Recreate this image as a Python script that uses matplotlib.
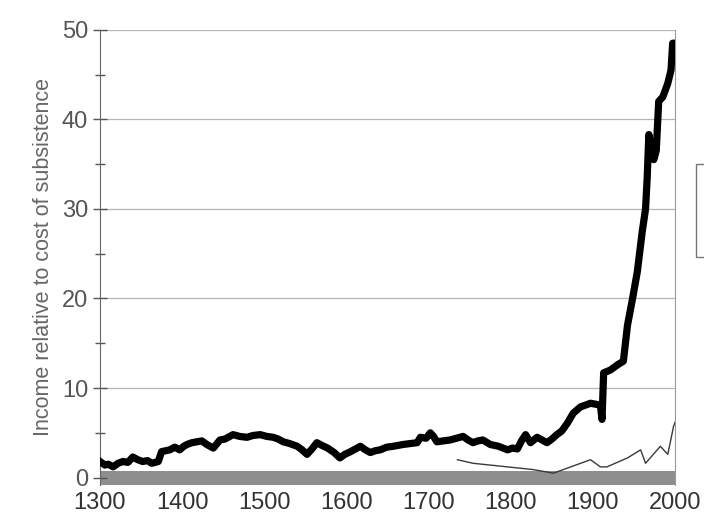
"""Income relative to cost of subsistence, 1300-2000"""
import matplotlib
matplotlib.use("Agg")
import matplotlib.pyplot as plt
from matplotlib.patches import Rectangle

plt.rcParams['font.family'] = ['Liberation Sans', 'DejaVu Sans']

# thick series
years_main = [1300, 1306, 1310, 1316, 1322, 1328, 1334, 1340, 1346, 1352,
              1358, 1363, 1371, 1375, 1380, 1385, 1391, 1397, 1402, 1406,
              1412, 1418, 1424, 1430, 1438, 1446, 1452, 1462, 1470, 1479,
              1486, 1495, 1503, 1511, 1517, 1523, 1531, 1540, 1546, 1552,
              1558, 1564, 1570, 1577, 1585, 1592, 1598, 1605, 1611, 1617,
              1623, 1629, 1635, 1641, 1649, 1657, 1669, 1686, 1690, 1697,
              1702, 1706, 1710, 1718, 1726, 1734, 1742, 1748, 1754, 1760,
              1766, 1775, 1785, 1796, 1802, 1808, 1813, 1818, 1824, 1832,
              1838, 1844, 1850, 1856, 1862, 1869, 1876, 1885, 1897, 1909,
              1911, 1913, 1921, 1930, 1937, 1942, 1948, 1954, 1960, 1964,
              1966, 1968, 1971, 1974, 1977, 1980, 1985, 1991, 1995, 1997,
              2000]
income_main = [1.8, 1.4, 1.5, 1.2, 1.6, 1.8, 1.7, 2.3, 2.0, 1.8,
               1.9, 1.6, 1.8, 2.9, 3.0, 3.1, 3.4, 3.1, 3.5, 3.7,
               3.9, 4.0, 4.1, 3.7, 3.3, 4.2, 4.3, 4.8, 4.6, 4.5,
               4.7, 4.8, 4.6, 4.5, 4.3, 4.0, 3.8, 3.5, 3.1, 2.6,
               3.2, 3.9, 3.6, 3.3, 2.8, 2.2, 2.6, 2.9, 3.2, 3.5,
               3.1, 2.8, 3.0, 3.1, 3.4, 3.5, 3.7, 3.9, 4.5, 4.4,
               5.0, 4.6, 4.0, 4.1, 4.2, 4.4, 4.6, 4.2, 3.9, 4.1,
               4.2, 3.7, 3.5, 3.1, 3.3, 3.2, 4.1, 4.8, 3.9, 4.5,
               4.2, 3.9, 4.3, 4.8, 5.2, 6.1, 7.2, 7.9, 8.3, 8.1,
               6.5, 11.7, 12.0, 12.6, 13.0, 17.0, 19.9, 23.0, 27.5, 30.0,
               33.5, 38.3, 37.0, 35.5, 36.5, 42.0, 42.5, 44.0, 45.5, 48.5,
               48.5]

# thin series
years_thin = [1735, 1754, 1796, 1827, 1852, 1864, 1885, 1897, 1909, 1917,
              1942, 1958, 1964, 1982, 1991, 1994, 1998, 2000]
income_thin = [2.0, 1.6, 1.2, 0.9, 0.5, 0.9, 1.6, 2.0, 1.2, 1.2,
               2.2, 3.1, 1.6, 3.5, 2.6, 3.9, 5.7, 6.2]

x_ticks = [1300, 1400, 1500, 1600, 1700, 1800, 1900, 2000]
y_ticks = [0, 10, 20, 30, 40, 50]

fig = plt.figure(figsize=(7.04, 5.13), dpi=100)
ax = fig.add_axes([0.142, 0.055, 0.817, 0.887])

# gray band along the bottom
ax.axhspan(-0.8, 0.7, color='#8e8e8e', zorder=1, lw=0)

for y in y_ticks[1:]:
    ax.axhline(y, color='#b5b5b5', lw=0.9, zorder=0)

ax.plot(years_thin, income_thin, color='#3a3a3a', lw=1.0, zorder=2)
ax.plot(years_main, income_main, color='black', lw=5.2,
        solid_joinstyle='round', zorder=3)

ax.set_xlim(1300, 2000)
ax.set_ylim(-0.8, 50)
ax.set_xticks(x_ticks)
ax.set_yticks(y_ticks)
ax.set_yticks([5, 15, 25, 35, 45], minor=True)

ax.tick_params(axis='x', length=0, labelsize=17, colors='#333333', pad=5)
ax.tick_params(axis='y', which='major', direction='inout', length=10,
               width=1, color='#555555', labelsize=17, labelcolor='#555555')
ax.tick_params(axis='y', which='minor', direction='inout', length=7,
               width=1, color='#555555')

ax.spines['top'].set_visible(False)
ax.spines['bottom'].set_visible(False)
ax.spines['left'].set_color('#666666')
ax.spines['right'].set_color('#999999')
ax.spines['right'].set_linewidth(0.8)

ax.set_ylabel('Income relative to cost of subsistence', fontsize=15.5,
              color='#666666', labelpad=6)

# edge of a legend box cut off at the right
fig.patches.append(Rectangle((0.988, 0.50), 0.05, 0.18,
                             transform=fig.transFigure, fill=False,
                             edgecolor='#777777', lw=1))

fig.savefig('out.png', dpi=100)
